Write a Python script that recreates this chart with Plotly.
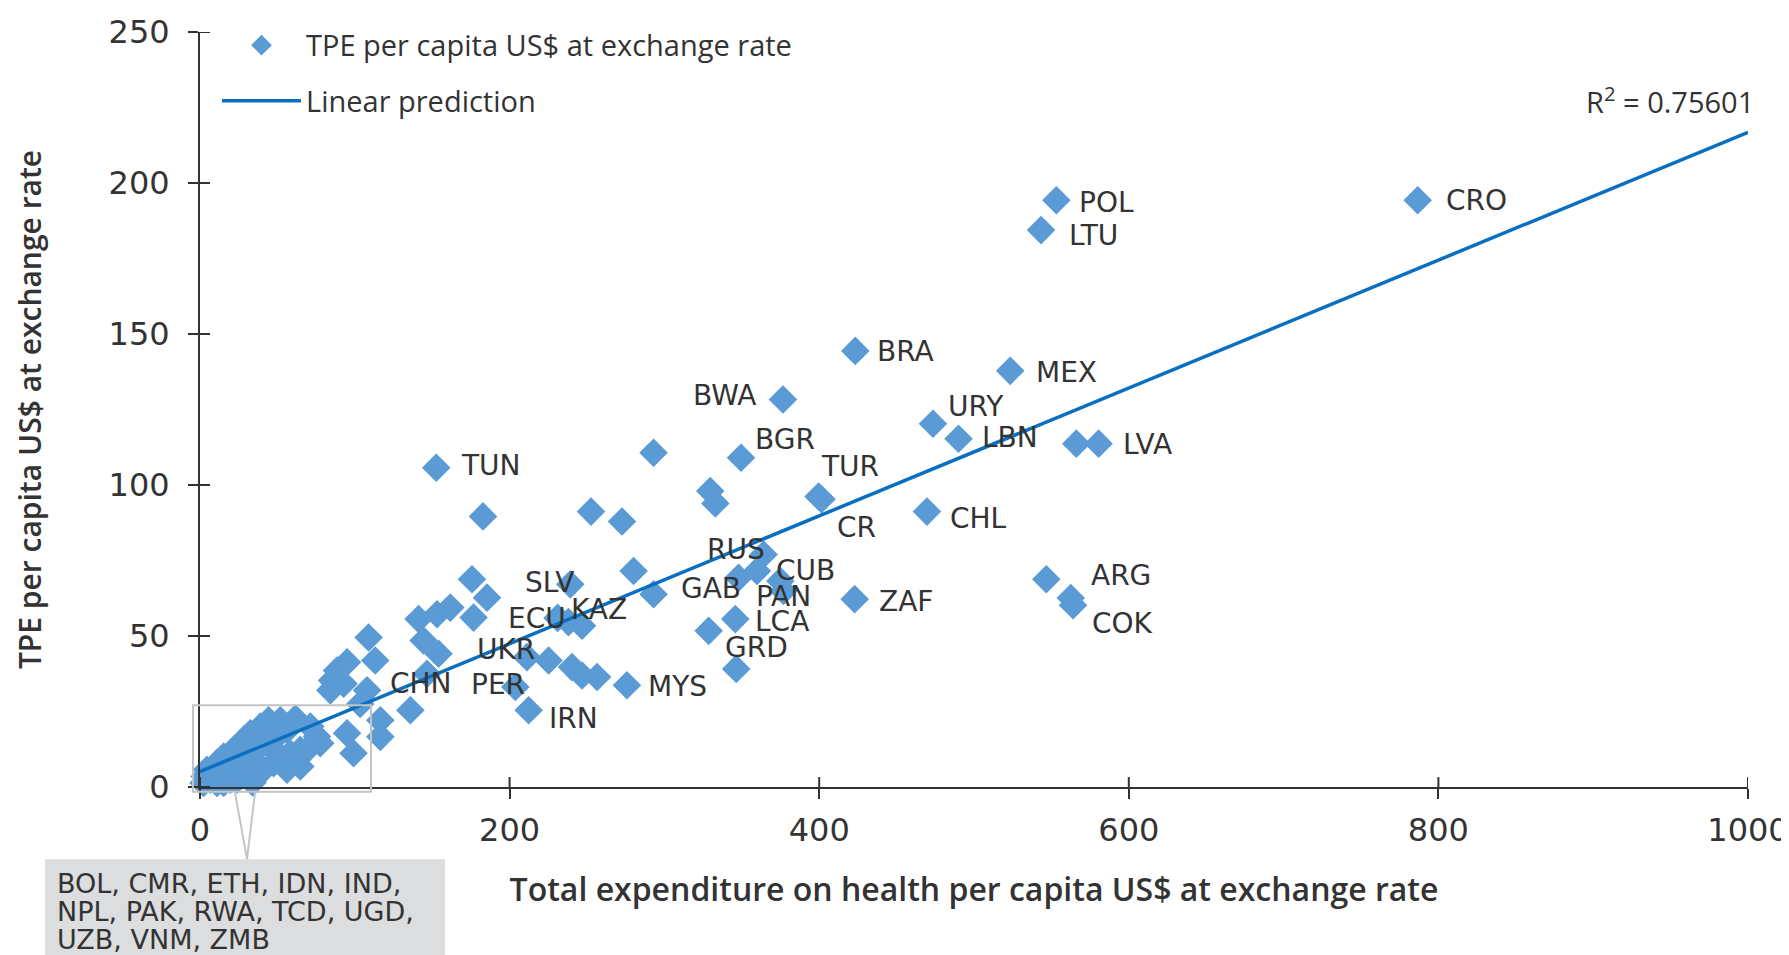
import plotly.graph_objects as go

# --- data (US$ per capita) ---
# labelled countries: total health expenditure (x) and TPE (y)
codes = ["CRO", "POL", "LTU", "BRA", "MEX", "BWA", "URY", "LBN", "LVA", "BGR",
         "TUN", "TUR", "CR", "CHL", "ARG", "COK", "ZAF", "RUS", "CUB", "GAB",
         "PAN", "LCA", "GRD", "MYS", "IRN", "SLV", "KAZ", "ECU", "UKR", "CHN", "PER"]
code_the = [786.6, 553.2, 543.3, 423.3, 523.4, 376.6, 473.5, 490.0, 580.5, 349.5,
            152.6, 399.6, 401.5, 469.6, 546.7, 564.0, 422.9, 364.1, 374.9, 347.9,
            377.0, 345.8, 346.4, 275.8, 212.3, 239.2, 246.8, 231.0, 154.1, 107.9, 203.7]
code_tpe = [194.3, 194.3, 184.4, 144.4, 137.8, 128.3, 120.3, 115.3, 113.7, 109.0,
            105.7, 96.2, 95.3, 91.2, 68.8, 60.2, 62.2, 77.0, 68.2, 69.3,
            64.9, 55.6, 39.1, 33.7, 25.4, 67.1, 53.4, 56.0, 44.1, 32.0, 33.1]

# unlabelled countries
other_the = [566.1, 562.5, 293.0, 329.6, 332.9, 182.8, 252.6, 272.6, 359.8, 328.6,
             280.1, 293.0, 238.0, 211.2, 225.2, 240.3, 246.8, 256.5, 175.7, 185.4,
             176.7, 161.7, 153.1, 141.2, 144.4, 146.6, 135.9, 108.9, 113.2, 95.0,
             88.5, 85.3, 84.2, 92.8, 103.5, 116.5, 116.5, 95.0, 99.2, 77.7,
             75.6, 71.3, 71.3, 64.8, 64.8, 62.7, 58.3, 56.2, 56.2, 61.6,
             51.9, 51.9, 49.7, 47.6, 44.3, 43.3, 41.1, 39.0, 36.8, 32.5,
             30.3, 30.3, 28.2, 23.9, 23.9, 21.7, 19.6, 17.4, 15.3, 15.3,
             11.0, 11.0, 6.7, 4.5, 2.3, 3.0, 34.0, 26.0, 8.0]
other_tpe = [113.7, 62.6, 110.7, 98.0, 93.9, 89.6, 91.2, 87.9, 71.5, 51.7,
             71.5, 63.8, 54.6, 43.0, 41.9, 39.7, 36.9, 36.4, 68.8, 62.7,
             56.1, 59.4, 57.2, 55.6, 48.5, 37.5, 25.4, 49.5, 41.9, 41.3,
             38.6, 35.3, 32.0, 34.2, 27.5, 22.1, 16.6, 17.8, 11.2, 14.5,
             16.7, 20.0, 13.4, 12.3, 6.8, 9.0, 11.2, 18.8, 5.7, 22.7,
             22.1, 10.1, 16.7, 7.9, 22.1, 14.5, 5.7, 20.0, 12.3, 17.8,
             9.0, 3.5, 15.6, 6.8, 2.4, 12.3, 2.4, 5.7, 10.1, 1.3,
             7.9, 1.3, 2.4, 5.7, 1.3, 3.5, 1.5, 10.0, 4.0]

fit_x = [0, 1000]
fit_y = [5.1, 216.8]
r_squared = "0.75601"

x_ticks = [0, 200, 400, 600, 800, 1000]
y_ticks = [0, 50, 100, 150, 200, 250]

inset_lines = ["BOL, CMR, ETH, IDN, IND,", "NPL, PAK, RWA, TCD, UGD,", "UZB, VNM, ZMB"]

# label offsets from their diamond, in pixels (dx, dy, anchor)
label_offset = {
    "CRO": (26, 0, "left"), "POL": (21, -2, "left"), "LTU": (26, -5, "left"),
    "BRA": (20, -1, "left"), "MEX": (24, -2, "left"), "BWA": (-24, 4, "right"),
    "URY": (13, 17, "left"), "LBN": (21, 1, "left"), "LVA": (22, -1, "left"),
    "BGR": (12, 18, "left"), "TUN": (23, 2, "left"), "TUR": (0, 30, "left"),
    "CR": (13, -28, "left"), "CHL": (21, -7, "left"), "ARG": (43, 4, "left"),
    "COK": (17, -18, "left"), "ZAF": (22, -2, "left"), "RUS": (-59, 5, "left"),
    "CUB": (-6, 11, "left"), "GAB": (-60, -11, "left"), "PAN": (-30, -5, "left"),
    "LCA": (18, -2, "left"), "GRD": (-13, 21, "left"), "MYS": (19, -1, "left"),
    "IRN": (18, -8, "left"), "SLV": (-47, 2, "left"), "KAZ": (-13, 16, "left"),
    "ECU": (-52, -1, "left"), "UKR": (36, 4, "left"), "CHN": (21, 7, "left"),
    "PER": (-46, 3, "left"),
}

# the page puts the figure 8px in from the top-left corner
PAGE_OFF = 8
W, H = 1789 - PAGE_OFF, 955 - PAGE_OFF
L, T = 200 - PAGE_OFF, 27 - PAGE_OFF
PW, PH = 1548, 760
R, B = W - L - PW, H - T - PH
PLOT_LEFT, PLOT_BOTTOM = 200, 787.3   # page pixels of the axes origin

TEXT = "#333333"
DIAMOND = "#5b9bd5"
LINE = "#0a6fc1"
GREY_LINE = "#c4c4c4"


def px_x(fx):
    return (fx - PLOT_LEFT) / PW


def px_y(fy):
    return (PLOT_BOTTOM - fy) / PH


fig = go.Figure()

fig.add_trace(go.Scatter(
    x=code_the + other_the, y=code_tpe + other_tpe, mode="markers",
    name="TPE per capita US$ at exchange rate",
    marker=dict(symbol="diamond", size=22, color=DIAMOND, line=dict(width=0)),
    cliponaxis=False, legendgroup="a",
))
fig.add_trace(go.Scatter(
    x=fit_x, y=fit_y, mode="lines", name="Linear prediction",
    line=dict(color=LINE, width=3.5), cliponaxis=False, legendgroup="b",
))

annotations = []
for code, xv, yv in zip(codes, code_the, code_tpe):
    dx, dy, anchor = label_offset[code]
    annotations.append(dict(
        x=xv, y=yv, text=code, showarrow=False, xanchor=anchor, yanchor="middle",
        xshift=dx, yshift=dy, font=dict(family="DejaVu Sans", size=28, color=TEXT),
    ))

annotations.append(dict(
    xref="paper", yref="paper", x=px_x(1756), y=px_y(96), xanchor="right", yanchor="middle",
    text=f"R<sup>2</sup> = {r_squared}", showarrow=False,
    font=dict(family="Open Sans", size=29, color=TEXT),
))

for i, line in enumerate(inset_lines):
    annotations.append(dict(
        xref="paper", yref="paper", x=px_x(55), y=px_y(884 + 28.5 * i),
        xanchor="left", yanchor="middle", text=line, showarrow=False,
        font=dict(family="DejaVu Sans", size=27, color=TEXT),
    ))

shapes = [
    # grey inset box and its pointer
    dict(type="rect", xref="paper", yref="paper", x0=px_x(45), x1=px_x(445),
         y0=px_y(965), y1=px_y(860), fillcolor="#dcdddf", line=dict(width=0), layer="below"),
    dict(type="path", xref="paper", yref="paper",
         path=f"M{px_x(235)},{px_y(793)} L{px_x(247)},{px_y(860)} L{px_x(255)},{px_y(793)}",
         line=dict(color=GREY_LINE, width=2)),
    dict(type="rect", xref="paper", yref="paper", x0=px_x(193), x1=px_x(371),
         y0=px_y(792), y1=px_y(705), line=dict(color=GREY_LINE, width=2), layer="above"),
]
# inner halves of the ticks (they cross the axis lines)
for v in x_ticks:
    shapes.append(dict(type="line", xref="x", yref="paper", x0=v, x1=v, y0=0, y1=10 / PH,
                       line=dict(color=TEXT, width=2)))
for v in y_ticks:
    shapes.append(dict(type="line", xref="paper", yref="y", x0=0, x1=10 / PW, y0=v, y1=v,
                       line=dict(color=TEXT, width=2)))

axis_common = dict(
    showline=True, linecolor=TEXT, linewidth=2, ticks="outside", ticklen=10, tickwidth=2,
    tickcolor=TEXT, showgrid=False, zeroline=False, automargin=False,
    tickfont=dict(family="DejaVu Sans", size=32, color=TEXT),
)

fig.update_layout(
    width=W, height=H, autosize=False,
    margin=dict(l=L, r=R, t=T, b=B),
    paper_bgcolor="white", plot_bgcolor="white",
    xaxis=dict(range=[0, 1000], tickvals=x_ticks, ticklabelstandoff=4,
               title=dict(text="Total expenditure on health per capita US$ at exchange rate",
                          font=dict(family="Open Sans", size=32, color=TEXT, weight=600),
                          standoff=30),
               **axis_common),
    yaxis=dict(range=[0, 250], tickvals=y_ticks, ticklabelstandoff=12,
               title=dict(text="TPE per capita US$ at exchange rate",
                          font=dict(family="Open Sans", size=30, color=TEXT, weight=600),
                          standoff=58),
               **axis_common),
    legend=dict(x=px_x(217), y=px_y(15), xanchor="left", yanchor="top",
                font=dict(family="Open Sans", size=29, color=TEXT),
                traceorder="grouped", tracegroupgap=15, itemwidth=79,
                bgcolor="rgba(0,0,0,0)"),
    annotations=annotations,
    shapes=shapes,
)

fig.write_html("out.html")
